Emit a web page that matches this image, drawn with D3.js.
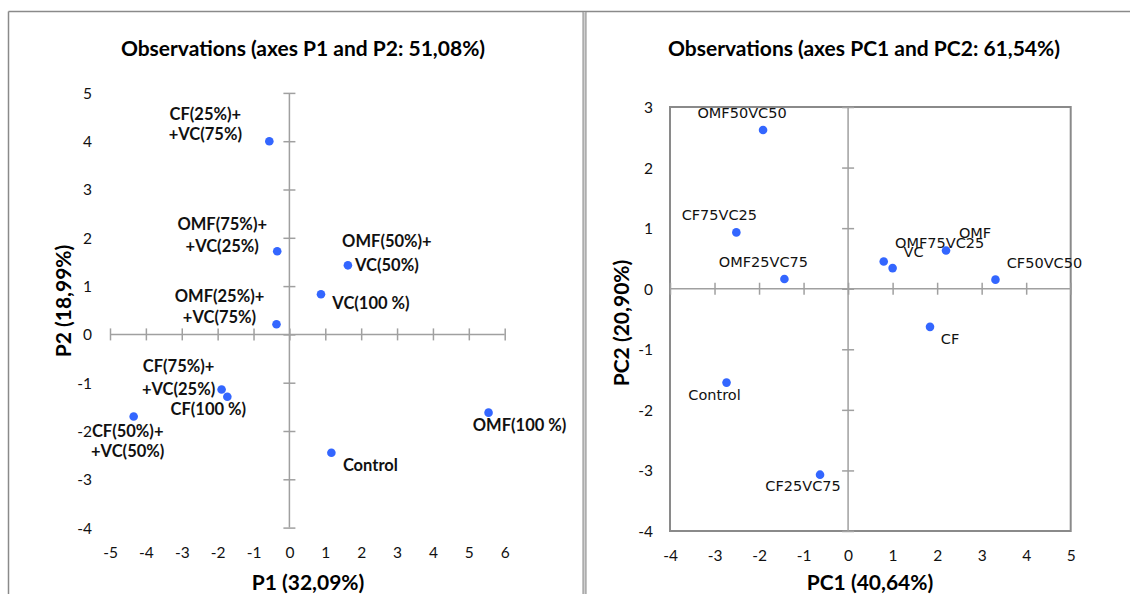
<!DOCTYPE html>
<html>
<head>
<meta charset="utf-8">
<script src="https://cdn.jsdelivr.net/npm/d3@7"></script>
<style>
  body { margin: 0; background: #fff; }
  svg { display: block; }
</style>
</head>
<body>
<svg id="chart" width="1130" height="594"></svg>
<script>
// Left panel: PCA with mixed-treatment labels
const leftNames = [
  ['CF(25%)+', '+VC(75%)'],
  ['OMF(75%)+', '+VC(25%)'],
  ['OMF(50%)+', 'VC(50%)'],
  ['VC(100 %)'],
  ['OMF(25%)+', '+VC(75%)'],
  ['CF(75%)+', '+VC(25%)'],
  ['CF(100 %)'],
  ['CF(50%)+', '+VC(50%)'],
  ['OMF(100 %)'],
  ['Control']
];
const leftP1 = [-0.56, -0.34, 1.63, 0.88, -0.36, -1.89, -1.73, -4.34, 5.55, 1.17];
const leftP2 = [4.00, 1.72, 1.43, 0.83, 0.21, -1.14, -1.29, -1.70, -1.62, -2.45];
const leftXTicks = [-5, -4, -3, -2, -1, 0, 1, 2, 3, 4, 5, 6];
const leftYTicks = [-4, -3, -2, -1, 0, 1, 2, 3, 4, 5];

// Right panel: PCA with short labels
const rightNames = ['OMF50VC50', 'CF75VC25', 'OMF25VC75', 'OMF75VC25', 'VC', 'OMF', 'CF50VC50', 'CF', 'Control', 'CF25VC75'];
const rightPC1 = [-1.91, -2.51, -1.43, 0.80, 1.00, 2.20, 3.31, 1.84, -2.73, -0.63];
const rightPC2 = [2.62, 0.93, 0.16, 0.45, 0.34, 0.63, 0.15, -0.63, -1.55, -3.07];
const rightXTicks = [-4, -3, -2, -1, 0, 1, 2, 3, 4, 5];
const rightYTicks = [-4, -3, -2, -1, 0, 1, 2, 3];

// Label placement relative to each dot (dx of label centre, dy of each line centre)
const leftLabelOffsets = [
  { dx: -64, dy: [-27, -7] },
  { dx: -55, dy: [-27, -5] },
  { dx: 39, dy: [-24, 0] },
  { dx: 50, dy: [9] },
  { dx: -57, dy: [-28, -7] },
  { dx: -43, dy: [-23, 0] },
  { dx: -19, dy: [12] },
  { dx: -6, dy: [14, 34] },
  { dx: 31, dy: [12] },
  { dx: 39, dy: [12] }
];
const rightLabelOffsets = [
  { dx: -21, dy: -17 },
  { dx: -17, dy: -17 },
  { dx: -21, dy: -17 },
  { dx: 56, dy: -18 },
  { dx: 21, dy: -16 },
  { dx: 29, dy: -18 },
  { dx: 49, dy: -17 },
  { dx: 20, dy: 12 },
  { dx: -12, dy: 12 },
  { dx: -17, dy: 11 }
];

const FONT = 'Lato, "Open Sans", sans-serif';
const DOT_COLOR = '#3366ff';
const AXIS_COLOR = '#a0a0a0';

const svg = d3.select('#chart');

/**
 * Panel frames: outer border and the double divider between the panels
 */
function drawFrames() {
  svg.append('line')
    .attr('x1', 8.5).attr('y1', 11.5).attr('x2', 1130).attr('y2', 11.5)
    .attr('stroke', '#8a8a8a').attr('stroke-width', 1.5);
  svg.append('line')
    .attr('x1', 8.5).attr('y1', 11.5).attr('x2', 8.5).attr('y2', 594)
    .attr('stroke', '#8a8a8a').attr('stroke-width', 1.5);
  svg.append('rect')
    .attr('x', 583).attr('y', 11.5).attr('width', 3).attr('height', 600)
    .attr('fill', '#d0d0d0').attr('stroke', '#8a8a8a').attr('stroke-width', 1);
}

/**
 * Cross-shaped axis through zero with ticks crossing the line
 */
function drawZeroAxes(g, x, y, xTicks, yTicks) {
  const xAxis = g.append('g')
    .attr('transform', `translate(0,${y(0)})`)
    .call(d3.axisBottom(x).tickValues(xTicks).tickSize(12).tickFormat(''));
  xAxis.selectAll('.tick line').attr('y1', -6).attr('y2', 6);

  const yAxis = g.append('g')
    .attr('transform', `translate(${x(0)},0)`)
    .call(d3.axisLeft(y).tickValues(yTicks).tickSize(12).tickFormat(''));
  yAxis.selectAll('.tick line').attr('x1', -6).attr('x2', 6);

  [xAxis, yAxis].forEach(a => {
    a.select('.domain').remove();
    a.selectAll('.tick line').attr('stroke', AXIS_COLOR).attr('stroke-width', 1.5);
  });
  g.append('line')
    .attr('x1', x.range()[0]).attr('x2', x.range()[1])
    .attr('y1', y(0)).attr('y2', y(0))
    .attr('stroke', AXIS_COLOR).attr('stroke-width', 1.5);
  g.append('line')
    .attr('x1', x(0)).attr('x2', x(0))
    .attr('y1', y.range()[0]).attr('y2', y.range()[1])
    .attr('stroke', AXIS_COLOR).attr('stroke-width', 1.5);
}

/**
 * Tick labels set along the bottom and left of a panel
 */
function drawTickLabels(g, x, y, xTicks, yTicks, labelY, labelX) {
  const fmt = d => (d < 0 ? '-' + Math.abs(d) : String(d));
  g.append('g')
    .attr('transform', `translate(0,${labelY})`)
    .call(d3.axisBottom(x).tickValues(xTicks).tickSize(0).tickFormat(fmt))
    .call(a => a.select('.domain').remove())
    .selectAll('text')
    .attr('dy', '0.35em').attr('y', 0)
    .style('font-family', FONT).style('font-size', '15.5px').attr('fill', '#111');

  g.append('g')
    .attr('transform', `translate(${labelX},0)`)
    .call(d3.axisLeft(y).tickValues(yTicks).tickSize(0).tickFormat(fmt))
    .call(a => a.select('.domain').remove())
    .selectAll('text')
    .attr('x', 0).attr('dy', '0.35em')
    .style('font-family', FONT).style('font-size', '15.5px').attr('fill', '#111');
}

function drawTitles(title, xTitle, yTitle, pos) {
  const bold = sel => sel
    .attr('text-anchor', 'middle').attr('dominant-baseline', 'central')
    .style('font-family', FONT).style('font-size', '21px').style('font-weight', 'bold')
    .attr('fill', '#000');
  svg.append('text').attr('x', pos.tx).attr('y', pos.ty).call(bold).text(title);
  svg.append('text').attr('x', pos.xx).attr('y', pos.xy).call(bold).text(xTitle);
  svg.append('text')
    .attr('transform', `translate(${pos.yx},${pos.yy}) rotate(-90)`)
    .call(bold).text(yTitle);
}

/**
 * Left panel
 */
function drawLeft() {
  const x = d3.scaleLinear().domain([-5, 6]).range([110, 504.7]);
  const y = d3.scaleLinear().domain([-4, 5]).range([527.6, 92.9]);
  const g = svg.append('g').attr('class', 'left');

  drawZeroAxes(g, x, y, leftXTicks, leftYTicks);
  drawTickLabels(g, x, y, leftXTicks, leftYTicks, 553, 92);

  const pts = leftNames.map((n, i) => ({ name: n, p1: leftP1[i], p2: leftP2[i], off: leftLabelOffsets[i] }));

  g.selectAll('circle.obs')
    .data(pts)
    .join('circle')
    .attr('class', 'obs')
    .attr('cx', d => x(d.p1)).attr('cy', d => y(d.p2))
    .attr('r', 4.3).attr('fill', DOT_COLOR);

  const labels = g.selectAll('g.obs-label')
    .data(pts)
    .join('g')
    .attr('class', 'obs-label')
    .attr('transform', d => `translate(${x(d.p1) + d.off.dx},${y(d.p2)})`);
  labels.each(function(d) {
    const lg = d3.select(this);
    d.name.forEach((line, k) => {
      lg.append('text')
        .attr('y', d.off.dy[k])
        .attr('text-anchor', 'middle').attr('dominant-baseline', 'central')
        .style('font-family', FONT).style('font-size', '16.5px').style('font-weight', 'bold')
        .attr('fill', '#111').text(line);
    });
  });

  drawTitles('Observations (axes P1 and P2: 51,08%)', 'P1 (32,09%)', 'P2 (18,99%)',
    { tx: 303, ty: 47, xx: 308, xy: 581, yx: 62, yy: 301 });
}

/**
 * Right panel
 */
function drawRight() {
  const x = d3.scaleLinear().domain([-4, 5]).range([670, 1070.7]);
  const y = d3.scaleLinear().domain([-4, 3]).range([531, 107]);
  const g = svg.append('g').attr('class', 'right');

  g.append('rect')
    .attr('x', x(-4)).attr('y', y(3))
    .attr('width', x(5) - x(-4)).attr('height', y(-4) - y(3))
    .attr('fill', 'none').attr('stroke', '#8a8a8a').attr('stroke-width', 2);

  drawZeroAxes(g, x, y, rightXTicks, rightYTicks);
  drawTickLabels(g, x, y, rightXTicks, rightYTicks, 556, 653);

  const pts = rightNames.map((n, i) => ({ name: n, pc1: rightPC1[i], pc2: rightPC2[i], off: rightLabelOffsets[i] }));

  g.selectAll('circle.obs')
    .data(pts)
    .join('circle')
    .attr('class', 'obs')
    .attr('cx', d => x(d.pc1)).attr('cy', d => y(d.pc2))
    .attr('r', 4.3).attr('fill', DOT_COLOR);

  g.selectAll('text.obs-label')
    .data(pts)
    .join('text')
    .attr('class', 'obs-label')
    .attr('x', d => x(d.pc1) + d.off.dx)
    .attr('y', d => y(d.pc2) + d.off.dy)
    .attr('text-anchor', 'middle').attr('dominant-baseline', 'central')
    .style('font-family', '"DejaVu Sans", sans-serif').style('font-size', '14.5px')
    .attr('fill', '#111').text(d => d.name);

  drawTitles('Observations (axes PC1 and PC2: 61,54%)', 'PC1 (40,64%)', 'PC2 (20,90%)',
    { tx: 864, ty: 47, xx: 870, xy: 581, yx: 620, yy: 323 });
}

drawFrames();
drawLeft();
drawRight();
</script>
</body>
</html>
